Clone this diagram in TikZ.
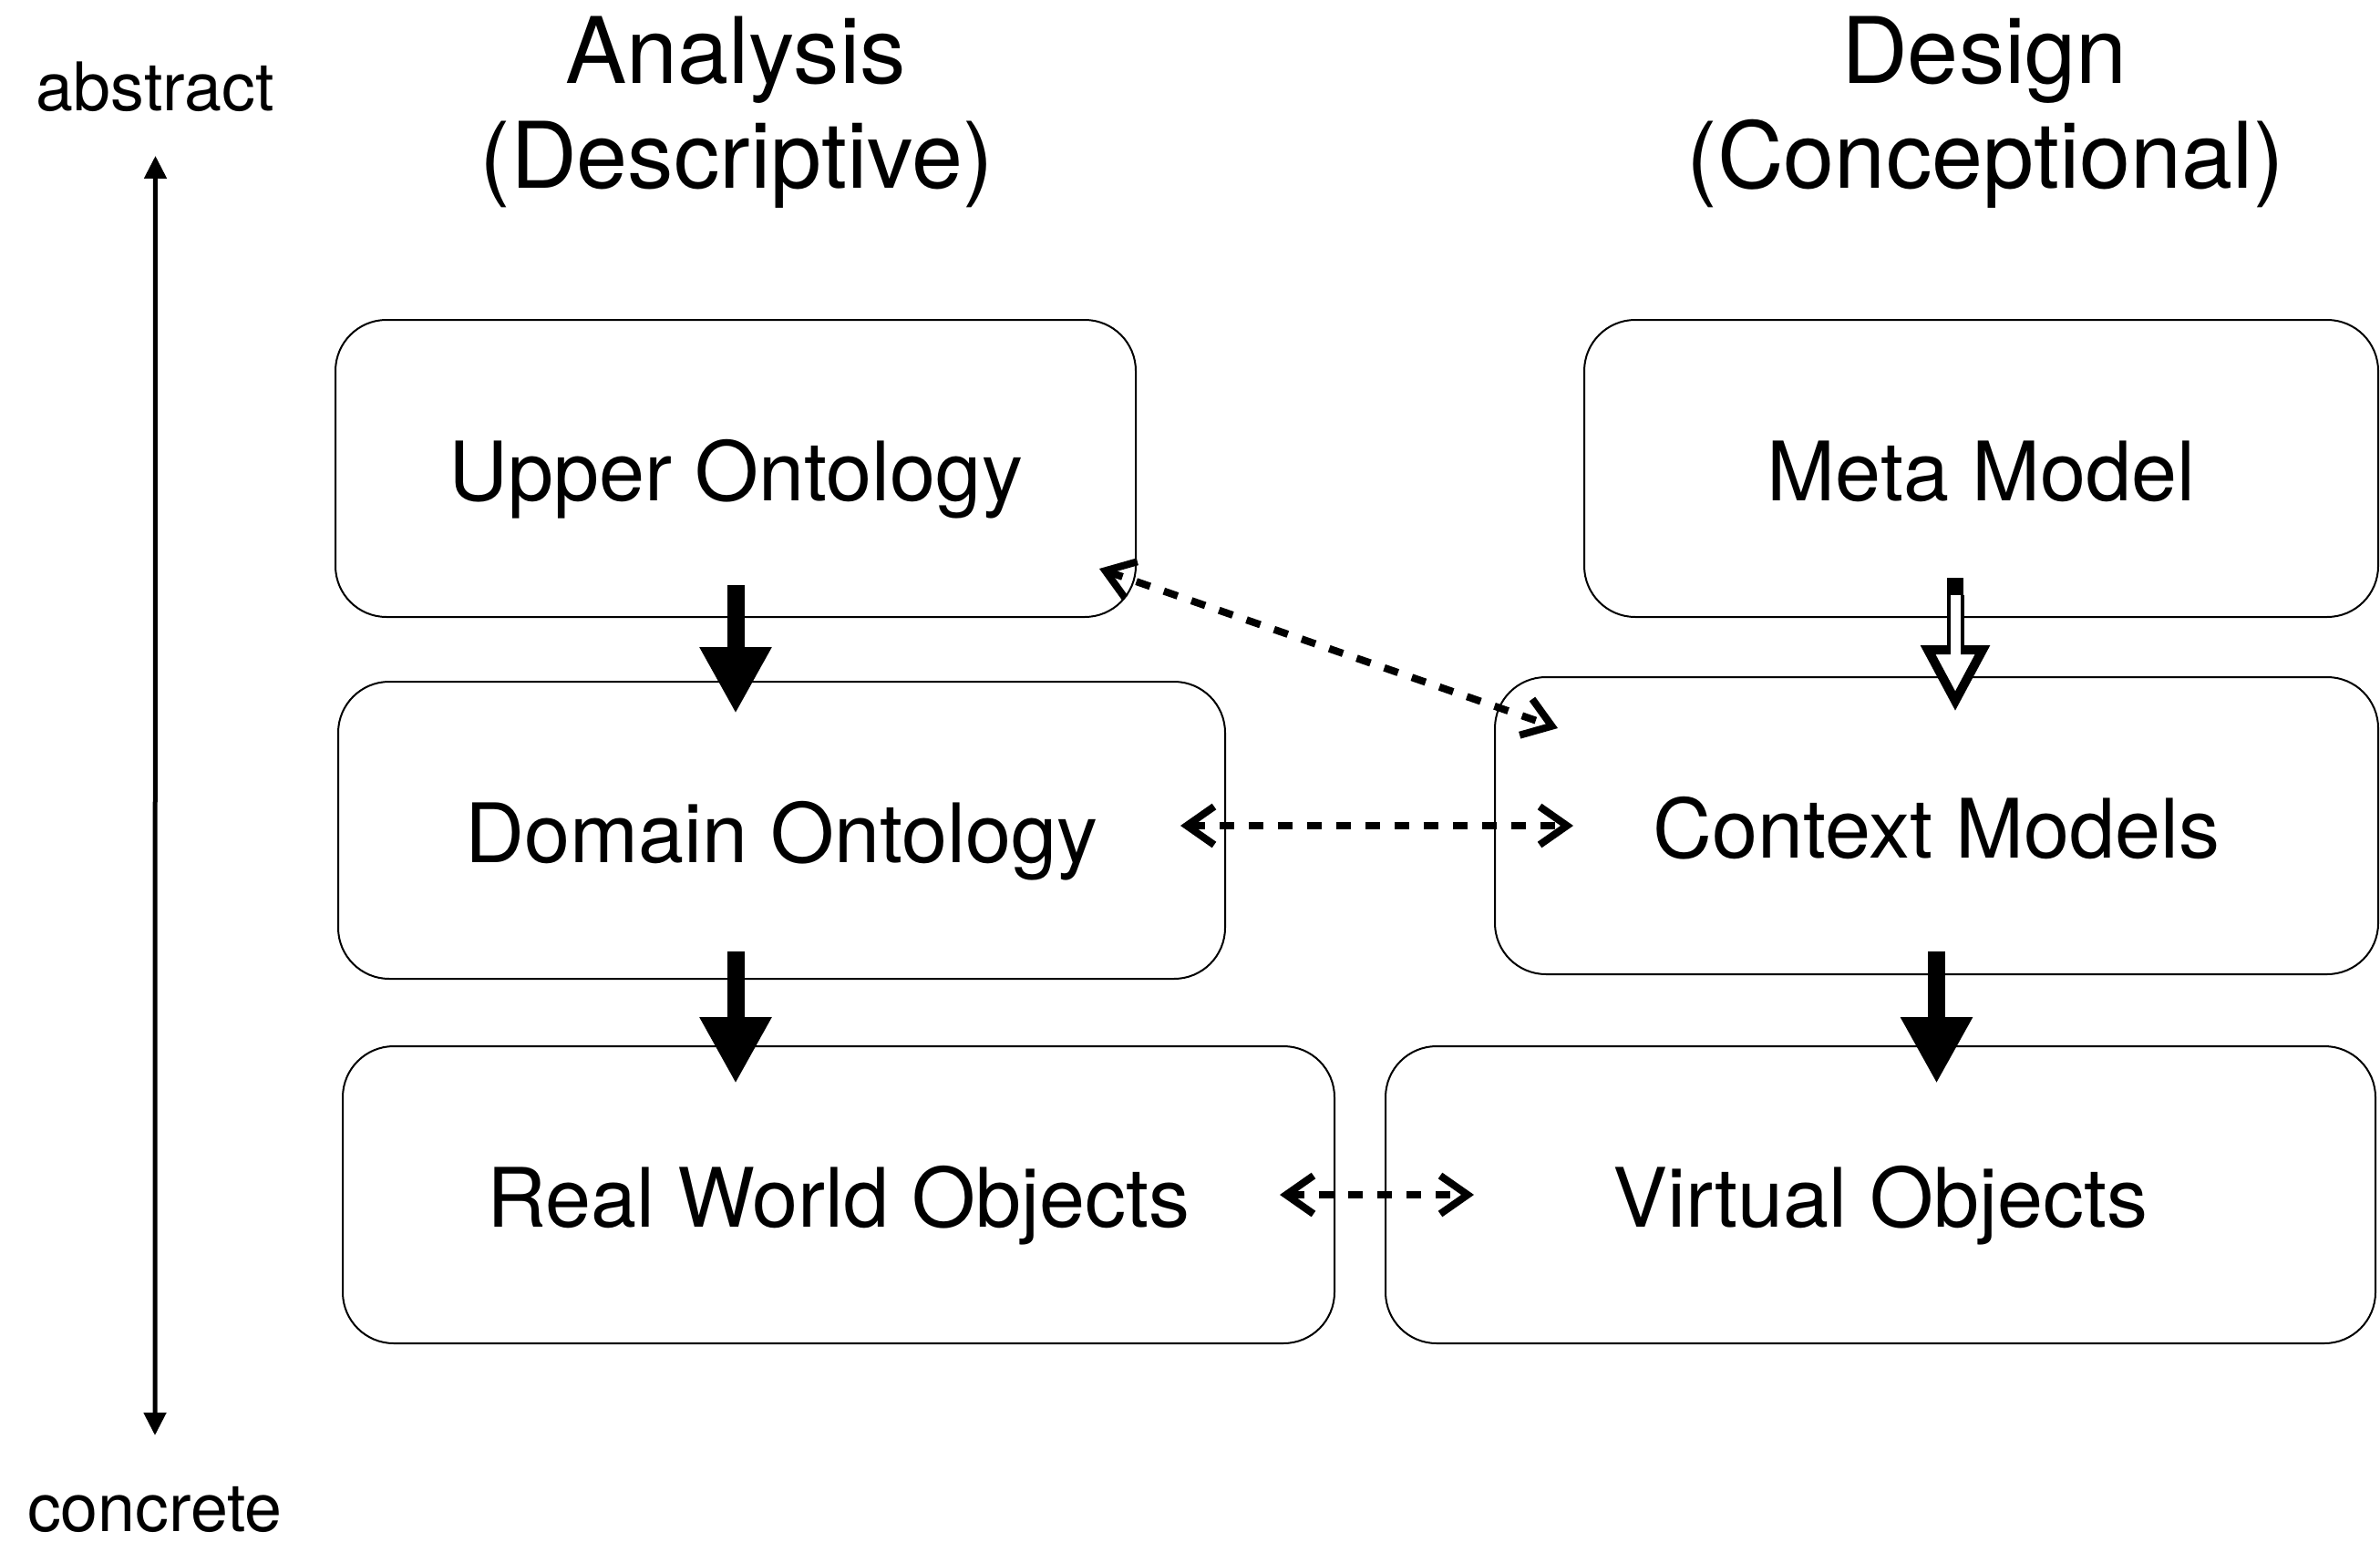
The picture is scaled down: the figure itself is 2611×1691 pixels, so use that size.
\documentclass[tikz,border=0pt]{standalone}
\usepackage{fontspec}
\setmainfont{TeX Gyre Heros}
\usepackage{tikz}
\usetikzlibrary{arrows.meta, positioning, calc}
\tikzset{
  layerbox/.style={rectangle, draw, line width=0.5pt, rounded corners=14pt, minimum width=#1, minimum height=81.5pt, inner sep=0pt, font=\fontsize{22.5pt}{26pt}\selectfont, text height=17.5pt, text depth=0pt},
  headlabel/.style={font=\fontsize{25.2pt}{30pt}\selectfont, inner sep=0pt, anchor=base},
  sidelabel/.style={font=\fontsize{18.4pt}{22pt}\selectfont, inner sep=0pt, anchor=base},
  refinearrow/.style={line width=4.75pt, -{Triangle[width=18.5pt, length=18.25pt]}},
  linkarrow/.style={line width=2pt, dash pattern=on 4pt off 4pt, {Straight Barb[length=7.5pt, width=10.5pt]}-{Straight Barb[length=7.5pt, width=10.5pt]}},
  axisarrow/.style={line width=1.25pt, {Triangle[width=6pt, length=6.25pt]}-{Triangle[width=6pt, length=6.25pt]}},
}

\begin{document}
\begin{tikzpicture}[x=0.25pt, y=-0.25pt]
\useasboundingbox (0,0) rectangle (2611,1691);

% column headings
\node[headlabel] (analysis) at (807,92) {Analysis};
\node[headlabel] (analysisSub) at (808,207) {(Descriptive)};
\node[headlabel] (design) at (2177,92) {Design};
\node[headlabel] (designSub) at (2178,207) {(Conceptional)};

% abstraction axis
\node[sidelabel] (abstract) at (170.5,122) {abstract};
\node[sidelabel] (concrete) at (170,1680) {concrete};
\draw[axisarrow] ($(abstract.base)+(0,49)$) -- ($(concrete.base)+(0,-105)$);

% analysis side
\node[layerbox=219.5pt] (upper) at (807,514) {Upper Ontology};
\node[layerbox=243.25pt] (domain) at (857.5,911) {Domain Ontology};
\node[layerbox=272pt] (real) at (920,1311) {Real World Objects};

% design side
\node[layerbox=217.75pt] (meta) at (2173.5,514) {Meta Model};
\node[layerbox=242.25pt] (context) at (2124.5,906) {Context Models};
\node[layerbox=271.5pt] (virtual) at (2063,1311) {Virtual Objects};

% refinement arrows
\draw[refinearrow, shorten <=-9pt, shorten >=-9pt] (upper.south) -- (upper.south |- domain.north);
\draw[refinearrow, shorten <=-7.75pt, shorten >=-10.5pt] (domain.south -| upper.south) -- (real.north -| upper.south);
\draw[refinearrow, shorten <=-6.5pt, shorten >=-10.5pt] (context.south) -- (context.south |- virtual.north);

% hollow arrow meta -> context
\coordinate (mmTop) at ($(meta.south)+(-28.5,-44)$);
\draw[line width=2.5pt, fill=white, line join=miter] ($(mmTop)+(-30,79)$) -- ($(mmTop)+(30,79)$) -- ($(mmTop)+(0,135)$) -- cycle;
\fill[white] ($(mmTop)+(-5.5,19)$) rectangle ($(mmTop)+(5.5,86)$);
\draw[line width=1pt] ($(mmTop)+(-7.5,19)$) -- ($(mmTop)+(-7.5,75)$);
\draw[line width=1pt] ($(mmTop)+(7.5,19)$) -- ($(mmTop)+(7.5,75)$);
\fill ($(mmTop)+(-9,0)$) rectangle ($(mmTop)+(9,19)$);

% correspondences
\draw[linkarrow] ($(upper.south east)+(-41,-54)$) -- ($(context.north west)+(70,57)$);
\draw[linkarrow] ($(domain.east)+(-50,-5)$) -- ($(context.west)+(87,0)$);
\draw[linkarrow] ($(real.east)+(-61,0)$) -- ($(virtual.west)+(98,0)$);
\end{tikzpicture}
\end{document}
